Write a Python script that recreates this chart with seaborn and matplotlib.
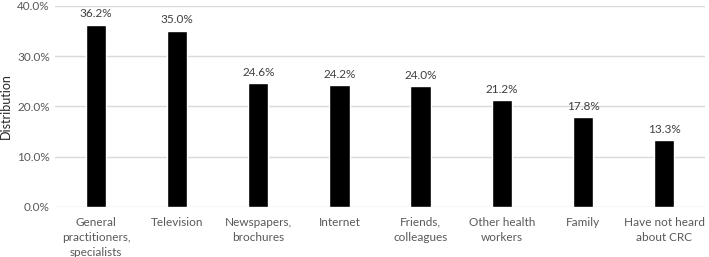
import matplotlib
matplotlib.use("Agg")
import matplotlib.pyplot as plt
import pandas as pd
import seaborn as sns
from matplotlib.ticker import PercentFormatter

CATEGORIES = [
    "General\npractitioners,\nspecialists",
    "Television",
    "Newspapers,\nbrochures",
    "Internet",
    "Friends,\ncolleagues",
    "Other health\nworkers",
    "Family",
    "Have not heard\nabout CRC",
]
VALUES = [36.2, 35.0, 24.6, 24.2, 24.0, 21.2, 17.8, 13.3]
Y_TICKS = [0, 10, 20, 30, 40]

TEXT_COLOR = "#595959"
GRID_COLOR = "#d9d9d9"


def main() -> None:
    sns.set_theme(style="white")
    plt.rcParams["font.family"] = ["Lato", "DejaVu Sans"]

    df = pd.DataFrame({"source": CATEGORIES, "pct": VALUES})

    fig = plt.figure(figsize=(7.09, 2.57), dpi=100)
    ax = fig.add_axes([0.078, 0.195, 0.916, 0.782])

    sns.barplot(data=df, x="source", y="pct", color="black", width=0.25,
                saturation=1, ax=ax, zorder=3)

    ax.set_ylim(0, 40)
    ax.set_yticks(Y_TICKS)
    ax.yaxis.set_major_formatter(PercentFormatter(decimals=1))
    ax.yaxis.grid(True, color=GRID_COLOR, linewidth=1)
    ax.set_axisbelow(True)
    for spine in ax.spines.values():
        spine.set_visible(False)

    ax.set_xlabel("")
    ax.set_ylabel("Distribution", fontsize=9, color="#262626", labelpad=4)
    ax.tick_params(axis="both", length=0, labelsize=8.5, colors=TEXT_COLOR)
    ax.tick_params(axis="x", pad=7)
    ax.tick_params(axis="y", pad=4)
    for lbl in ax.get_xticklabels():
        lbl.set_linespacing(1.45)

    for container in ax.containers:
        ax.bar_label(container, labels=[f"{v:.1f}%" for v in VALUES],
                     padding=4, fontsize=8.5, color="#404040")

    fig.savefig("out.png", dpi=100)
    plt.close(fig)


if __name__ == "__main__":
    main()
